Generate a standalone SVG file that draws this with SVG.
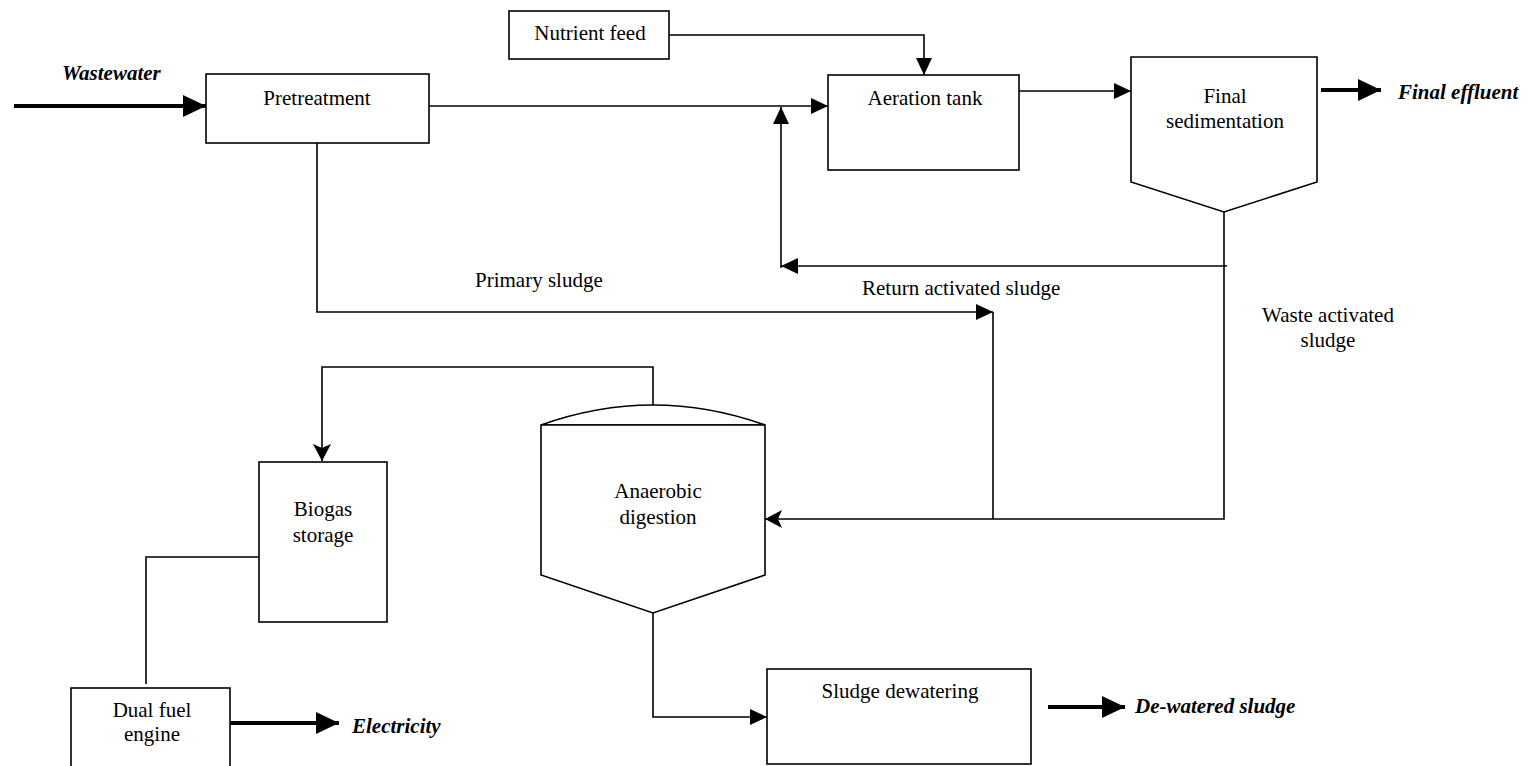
<svg xmlns="http://www.w3.org/2000/svg" width="1530" height="766" viewBox="0 0 1530 766">
  <style>
    .box { fill: #fff; stroke: #000; stroke-width: 1.6; }
    .ln { fill: none; stroke: #000; stroke-width: 1.6; }
    .thick { fill: none; stroke: #000; stroke-width: 4; }
    text { font-family: "Liberation Serif", "Times New Roman", serif; font-size: 21px; fill: #000; }
    .c { text-anchor: middle; }
    .out { font-weight: bold; font-style: italic; }
  </style>
  <defs>
    <marker id="arr" viewBox="0 0 17 16" refX="17" refY="8" markerWidth="17" markerHeight="16" markerUnits="userSpaceOnUse" orient="auto">
      <path d="M0,0 L17,8 L0,16 Z" fill="#000"/>
    </marker>
    <marker id="arrN" viewBox="0 0 17 18" refX="17" refY="9" markerWidth="17" markerHeight="18" markerUnits="userSpaceOnUse" orient="auto">
      <path d="M0,0 L17,9 L0,18 L4,9 Z" fill="#000"/>
    </marker>
    <marker id="big" viewBox="0 0 23 22" refX="23" refY="11" markerWidth="23" markerHeight="22" markerUnits="userSpaceOnUse" orient="auto">
      <path d="M0,0 L23,11 L0,22 Z" fill="#000"/>
    </marker>
  </defs>

  <!-- flow lines -->
  <g id="connectors">
    <line class="thick" x1="14" y1="106" x2="206" y2="106" marker-end="url(#big)"/>
    <line class="ln" x1="429" y1="106" x2="828" y2="106" marker-end="url(#arr)"/>
    <path class="ln" d="M669,35 H924 V75" marker-end="url(#arr)"/>
    <line class="ln" x1="1019" y1="91" x2="1131" y2="91" marker-end="url(#arr)"/>
    <line class="thick" x1="1321" y1="90" x2="1381" y2="90" marker-end="url(#big)"/>
    <path class="ln" d="M1224,212 V519 H765" marker-end="url(#arrN)"/>
    <line class="ln" x1="1227" y1="266" x2="781" y2="266" marker-end="url(#arr)"/>
    <line class="ln" x1="781" y1="268" x2="781" y2="107" marker-end="url(#arr)"/>
    <path class="ln" d="M317,143 V312 H993" marker-end="url(#arr)"/>
    <line class="ln" x1="993" y1="312" x2="993" y2="519"/>
    <path class="ln" d="M653,405 V367 H322 V461" marker-end="url(#arrN)"/>
    <path class="ln" d="M259,557 H146 V684"/>
    <line class="thick" x1="230" y1="723" x2="339" y2="723" marker-end="url(#big)"/>
    <path class="ln" d="M653,613 V717 H767" marker-end="url(#arr)"/>
    <line class="thick" x1="1048" y1="707" x2="1125" y2="707" marker-end="url(#big)"/>
  </g>

  <g id="pretreatment">
    <rect class="box" x="206" y="74" width="223" height="69"/>
    <text class="c" x="317" y="105">Pretreatment</text>
  </g>
  <g id="nutrient-feed">
    <rect class="box" x="509" y="11" width="160" height="48"/>
    <text class="c" x="590" y="40">Nutrient feed</text>
  </g>
  <g id="aeration-tank">
    <rect class="box" x="828" y="75" width="191" height="95"/>
    <text class="c" x="925" y="105">Aeration tank</text>
  </g>
  <g id="final-sedimentation">
    <polygon class="box" points="1131,57 1317,57 1317,182 1224,212 1131,182"/>
    <text class="c" x="1225" y="103">Final</text>
    <text class="c" x="1225" y="128">sedimentation</text>
  </g>
  <g id="anaerobic-digestion">
    <path class="box" d="M541,425 Q653,385 765,425 Z"/>
    <polygon class="box" points="541,425 765,425 765,575 653,613 541,575"/>
    <text class="c" x="658" y="498">Anaerobic</text>
    <text class="c" x="658" y="524">digestion</text>
  </g>
  <g id="biogas-storage">
    <rect class="box" x="259" y="462" width="128" height="160"/>
    <text class="c" x="323" y="516">Biogas</text>
    <text class="c" x="323" y="542">storage</text>
  </g>
  <g id="dual-fuel-engine">
    <rect class="box" x="71" y="688" width="159" height="100"/>
    <text class="c" x="152" y="717">Dual fuel</text>
    <text class="c" x="152" y="741">engine</text>
  </g>
  <g id="sludge-dewatering">
    <rect class="box" x="767" y="669" width="264" height="95"/>
    <text class="c" x="900" y="698">Sludge dewatering</text>
  </g>

  <!-- stream labels -->
  <g id="labels">
    <text class="out" x="62" y="80">Wastewater</text>
    <text class="out" x="1398" y="99">Final effluent</text>
    <text class="out" x="352" y="733">Electricity</text>
    <text class="out" x="1135" y="713">De-watered sludge</text>
    <text x="475" y="287">Primary sludge</text>
    <text x="862" y="295">Return activated sludge</text>
    <text class="c" x="1328" y="322">Waste activated</text>
    <text class="c" x="1328" y="347">sludge</text>
  </g>
</svg>
